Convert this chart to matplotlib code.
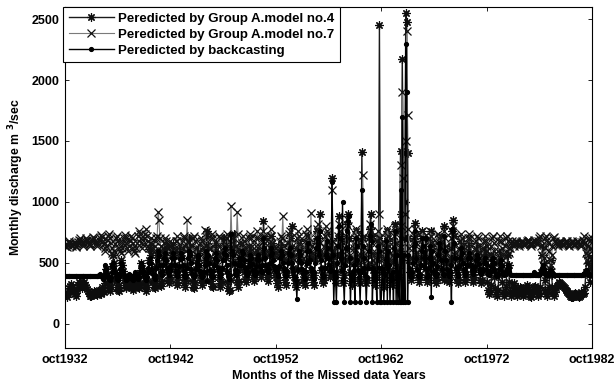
import numpy as np
import matplotlib
matplotlib.use("Agg")
import matplotlib.pyplot as plt

plt.rcParams['font.family'] = ['Liberation Sans', 'DejaVu Sans']
plt.rcParams['font.weight'] = 'bold'

# monthly discharge (m3/sec) from oct1932, one list per decade (120 months each)
model4_d1 = [250, 235, 220, 240, 270, 290, 310, 325, 300, 280,
             260, 245, 230, 250, 285, 320, 340, 330, 310, 295,
             310, 330, 345, 320, 300, 285, 270, 255, 240, 230,
             225, 235, 250, 270, 260, 245, 235, 240, 260, 280,
             250, 240, 300, 280, 260, 330, 380, 450, 400, 330,
             290, 270, 300, 360, 470, 560, 500, 420, 350, 300,
             280, 270, 320, 400, 520, 480, 430, 360, 320, 300,
             290, 330, 380, 350, 320, 300, 290, 280, 300, 340,
             380, 350, 320, 300, 290, 330, 440, 500, 460, 390,
             330, 300, 270, 300, 350, 420, 520, 610, 560, 430,
             340, 300, 290, 330, 470, 560, 480, 380, 320, 310,
             350, 420, 540, 620, 560, 500, 420, 360, 330, 350]
model4_d2 = [380, 450, 560, 650, 600, 480, 400, 340, 320, 380,
             460, 560, 620, 540, 450, 380, 330, 300, 360, 480,
             620, 700, 640, 520, 420, 350, 300, 290, 340, 450,
             560, 620, 580, 480, 400, 360, 320, 350, 420, 520,
             640, 720, 760, 640, 520, 420, 350, 310, 300, 380,
             480, 600, 660, 560, 450, 380, 330, 300, 350, 460,
             580, 700, 660, 540, 430, 340, 290, 270, 280, 360,
             500, 680, 740, 620, 500, 400, 340, 300, 350, 450,
             560, 650, 600, 500, 420, 370, 340, 380, 460, 560,
             620, 580, 500, 430, 380, 350, 380, 440, 520, 600,
             560, 480, 420, 380, 420, 560, 840, 700, 560, 450,
             380, 350, 400, 480, 600, 720, 660, 540, 450, 400]
model4_d3 = [380, 330, 300, 360, 460, 580, 650, 600, 520, 440,
             380, 340, 320, 400, 520, 640, 700, 620, 800, 560,
             460, 380, 330, 300, 340, 450, 580, 680, 620, 520,
             430, 370, 330, 320, 380, 500, 640, 720, 660, 540,
             440, 380, 340, 320, 400, 540, 680, 760, 700, 580,
             900, 560, 440, 370, 330, 360, 460, 600, 740, 660,
             540, 440, 380, 400, 1200, 620, 480, 380, 330, 420,
             560, 700, 880, 720, 560, 430, 360, 330, 400, 520,
             680, 820, 900, 700, 540, 420, 350, 320, 380, 500,
             640, 760, 680, 540, 420, 350, 330, 420, 1410, 700,
             560, 440, 370, 330, 360, 480, 640, 780, 900, 720,
             560, 440, 360, 320, 380, 520, 700, 640, 2450, 620]
model4_d4 = [560, 420, 340, 300, 360, 480, 640, 760, 700, 560,
             440, 360, 320, 380, 520, 680, 820, 760, 600, 460,
             380, 600, 1420, 900, 2170, 1400, 700, 1000, 2550, 2480,
             1400, 700, 520, 420, 360, 400, 520, 680, 830, 720,
             580, 460, 380, 340, 380, 480, 620, 760, 700, 560,
             450, 380, 340, 360, 440, 560, 680, 760, 640, 520,
             420, 360, 330, 370, 460, 600, 720, 660, 540, 440,
             380, 360, 800, 620, 500, 420, 360, 340, 400, 520,
             640, 760, 850, 720, 560, 440, 370, 330, 360, 460,
             580, 680, 620, 500, 420, 370, 340, 380, 480, 600,
             660, 580, 480, 410, 360, 340, 380, 460, 560, 640,
             600, 500, 420, 360, 330, 360, 440, 540, 620, 560]
model4_d5 = [420, 340, 280, 240, 260, 320, 450, 560, 500, 380,
             290, 240, 230, 280, 400, 540, 600, 480, 340, 260,
             230, 250, 300, 420, 560, 480, 340, 260, 230, 250,
             290, 330, 300, 260, 240, 230, 250, 280, 300, 290,
             260, 240, 230, 240, 270, 300, 320, 300, 270, 250,
             230, 220, 240, 270, 300, 310, 290, 260, 240, 230,
             250, 300, 420, 560, 640, 500, 360, 280, 240, 230,
             260, 300, 450, 520, 400, 300, 250, 230, 260, 290,
             310, 320, 330, 340, 335, 325, 320, 310, 300, 290,
             280, 270, 260, 250, 240, 230, 220, 215, 220, 230,
             240, 250, 245, 235, 225, 220, 230, 245, 260, 250,
             240, 250, 300, 420, 560, 620, 500, 400, 340, 460,
             540]

model7_d1 = [640, 655, 630, 645, 665, 680, 660, 645, 635, 650,
             670, 660, 640, 630, 650, 670, 690, 700, 680, 660,
             650, 640, 660, 680, 700, 690, 670, 650, 640, 655,
             675, 690, 710, 700, 680, 660, 650, 640, 660, 690,
             700, 730, 710, 680, 650, 620, 600, 640, 690, 720,
             740, 700, 660, 620, 580, 560, 600, 650, 700, 720,
             690, 660, 620, 600, 580, 620, 660, 700, 730, 700,
             660, 620, 600, 640, 680, 720, 700, 660, 620, 600,
             580, 620, 660, 720, 760, 740, 700, 660, 620, 650,
             700, 740, 780, 720, 680, 640, 620, 660, 700, 650,
             620, 600, 640, 680, 700, 720, 920, 850, 700, 640,
             600, 580, 620, 660, 700, 680, 640, 610, 640, 680]
model7_d2 = [640, 600, 560, 520, 560, 620, 680, 720, 680, 620,
             560, 520, 560, 620, 680, 720, 700, 640, 600, 852,
             680, 620, 560, 520, 580, 640, 700, 720, 680, 620,
             560, 500, 540, 600, 660, 700, 680, 620, 580, 770,
             640, 580, 520, 480, 540, 620, 700, 740, 700, 640,
             580, 520, 500, 560, 640, 720, 700, 640, 580, 540,
             520, 580, 640, 700, 740, 700, 640, 580, 620, 970,
             700, 620, 560, 520, 580, 640, 920, 740, 660, 600,
             560, 600, 660, 720, 680, 620, 560, 520, 580, 640,
             700, 740, 700, 640, 580, 540, 580, 640, 700, 760,
             700, 640, 580, 540, 600, 680, 760, 720, 660, 600,
             560, 600, 660, 720, 780, 720, 660, 600, 560, 620]
model7_d3 = [620, 580, 540, 560, 620, 680, 720, 700, 880, 640,
             580, 540, 520, 580, 660, 740, 760, 700, 640, 580,
             540, 520, 560, 620, 700, 760, 720, 660, 600, 560,
             520, 540, 600, 680, 740, 780, 720, 660, 600, 560,
             905, 640, 580, 540, 560, 620, 700, 780, 820, 740,
             660, 600, 540, 520, 560, 640, 720, 800, 760, 680,
             620, 560, 520, 560, 1100, 680, 600, 540, 500, 560,
             640, 720, 820, 760, 680, 600, 540, 500, 540, 620,
             720, 860, 800, 700, 620, 560, 500, 480, 540, 620,
             700, 780, 720, 640, 560, 500, 480, 560, 700, 1220,
             720, 620, 540, 480, 520, 600, 700, 820, 760, 660,
             580, 520, 480, 500, 580, 680, 760, 700, 900, 700]
model7_d4 = [660, 600, 540, 500, 540, 620, 700, 780, 720, 640,
             580, 520, 500, 560, 640, 720, 800, 740, 660, 600,
             560, 620, 1300, 800, 1900, 1200, 700, 900, 1500, 2400,
             1710, 780, 620, 540, 500, 540, 620, 700, 780, 720,
             640, 580, 520, 500, 540, 620, 700, 760, 700, 640,
             580, 520, 500, 540, 620, 700, 760, 720, 660, 600,
             540, 500, 520, 580, 660, 740, 700, 640, 580, 540,
             500, 540, 760, 700, 640, 580, 520, 500, 540, 620,
             700, 760, 800, 720, 640, 580, 520, 500, 540, 620,
             680, 740, 700, 640, 580, 540, 520, 560, 640, 700,
             740, 700, 640, 580, 540, 520, 560, 620, 680, 720,
             700, 640, 580, 540, 520, 560, 620, 680, 720, 680]
model7_d5 = [640, 600, 560, 520, 560, 640, 700, 720, 660, 600,
             540, 500, 520, 600, 680, 720, 680, 620, 560, 520,
             560, 640, 700, 720, 680, 620, 580, 620, 660, 680,
             660, 640, 650, 670, 680, 665, 650, 640, 655, 670,
             680, 670, 655, 645, 650, 665, 680, 690, 675, 660,
             650, 640, 655, 670, 685, 680, 665, 650, 660, 680,
             700, 720, 640, 560, 480, 540, 620, 700, 720, 690,
             660, 600, 520, 480, 560, 640, 700, 710, 680, 660,
             650, 640, 655, 670, 680, 670, 655, 645, 650, 665,
             680, 675, 660, 645, 640, 650, 665, 680, 670, 655,
             645, 650, 665, 675, 670, 655, 645, 640, 655, 670,
             690, 720, 660, 580, 520, 560, 640, 700, 680, 620,
             700]

backcast_d1 = [390, 390, 389, 390, 391, 390, 390, 389, 390, 391,
               390, 390, 389, 390, 391, 390, 390, 389, 390, 391,
               390, 390, 389, 390, 391, 390, 390, 389, 390, 391,
               390, 390, 389, 390, 391, 390, 390, 392, 395, 400,
               410, 390, 380, 370, 400, 440, 480, 450, 410, 380,
               370, 360, 380, 420, 470, 500, 460, 420, 390, 370,
               360, 380, 410, 450, 500, 470, 430, 400, 380, 370,
               360, 370, 390, 410, 400, 380, 370, 360, 380, 400,
               420, 400, 380, 370, 380, 420, 470, 500, 470, 430,
               400, 380, 360, 380, 420, 460, 500, 540, 500, 450,
               410, 380, 370, 400, 460, 520, 600, 560, 480, 420,
               400, 430, 480, 540, 580, 520, 460, 420, 400, 430]
backcast_d2 = [440, 480, 540, 580, 540, 480, 430, 400, 390, 420,
               470, 530, 580, 540, 480, 430, 400, 380, 400, 460,
               540, 600, 560, 500, 450, 410, 390, 380, 400, 450,
               500, 560, 540, 480, 430, 400, 380, 390, 420, 480,
               540, 600, 350, 560, 500, 440, 400, 380, 390, 430,
               480, 540, 580, 520, 460, 420, 390, 380, 410, 460,
               520, 580, 620, 560, 480, 420, 390, 370, 400, 740,
               600, 560, 500, 440, 410, 400, 430, 480, 540, 520,
               480, 540, 600, 580, 520, 460, 420, 400, 420, 470,
               520, 560, 540, 490, 440, 410, 400, 420, 470, 530,
               560, 520, 470, 430, 420, 480, 700, 620, 540, 480,
               440, 420, 450, 500, 560, 620, 580, 520, 470, 440]
backcast_d3 = [460, 420, 390, 410, 470, 540, 600, 560, 500, 460,
               420, 400, 390, 430, 500, 580, 620, 560, 500, 460,
               420, 390, 370, 360, 205, 440, 520, 600, 560, 500,
               450, 410, 380, 370, 420, 500, 600, 660, 600, 520,
               460, 420, 390, 369, 420, 500, 620, 700, 640, 560,
               760, 520, 460, 410, 380, 400, 460, 560, 680, 620,
               540, 480, 430, 440, 1160, 560, 180, 420, 380, 180,
               500, 640, 800, 700, 540, 440, 1000, 360, 180, 480,
               620, 760, 840, 880, 540, 180, 400, 360, 420, 480,
               180, 700, 640, 520, 440, 380, 180, 420, 1100, 640,
               540, 460, 400, 180, 380, 460, 600, 720, 820, 680,
               180, 460, 400, 360, 420, 180, 640, 600, 460, 180]
backcast_d4 = [180, 460, 420, 180, 400, 520, 680, 180, 600, 480,
               180, 400, 360, 420, 180, 620, 760, 180, 560, 180,
               420, 180, 1100, 180, 1700, 180, 560, 180, 2300, 1900,
               180, 560, 460, 400, 380, 420, 500, 640, 760, 660,
               540, 440, 400, 380, 410, 480, 600, 700, 640, 540,
               460, 700, 380, 400, 460, 540, 640, 220, 600, 500,
               430, 400, 390, 410, 470, 560, 660, 620, 520, 450,
               410, 400, 720, 600, 520, 450, 410, 390, 420, 480,
               180, 780, 760, 660, 540, 460, 410, 390, 410, 470,
               540, 620, 580, 500, 450, 420, 400, 420, 480, 540,
               580, 540, 480, 440, 420, 410, 430, 470, 520, 560,
               540, 490, 450, 420, 410, 420, 450, 500, 540, 500]
backcast_d5 = [480, 440, 410, 400, 420, 470, 520, 540, 500, 450,
               420, 400, 390, 410, 450, 500, 520, 470, 430, 410,
               400, 405, 420, 450, 480, 460, 430, 410, 400, 400,
               400, 402, 400, 398, 400, 400, 402, 400, 398, 400,
               400, 402, 400, 398, 400, 400, 402, 400, 398, 400,
               400, 402, 400, 398, 420, 400, 402, 400, 398, 400,
               400, 410, 430, 460, 480, 450, 420, 405, 400, 400,
               402, 410, 430, 440, 420, 405, 400, 400, 398, 400,
               400, 402, 400, 398, 400, 400, 402, 400, 398, 400,
               400, 402, 400, 398, 400, 400, 402, 400, 398, 400,
               400, 402, 400, 398, 400, 400, 402, 400, 398, 400,
               400, 405, 420, 440, 430, 415, 405, 400, 400, 400,
               400]

tick_months = [0, 120, 240, 360, 480, 600]
tick_labels = ['oct1932', 'oct1942', 'oct1952', 'oct1962', 'oct1972', 'oct1982']

model4 = np.array(model4_d1 + model4_d2 + model4_d3 + model4_d4 + model4_d5)
model7 = np.array(model7_d1 + model7_d2 + model7_d3 + model7_d4 + model7_d5)
backcast = np.array(backcast_d1 + backcast_d2 + backcast_d3 + backcast_d4 + backcast_d5)
months = np.arange(len(model4))

fig = plt.figure(figsize=(6.16, 3.83), dpi=100)
ax = fig.add_axes([0.1055, 0.0914, 0.8555, 0.8903])

ax.plot(months, model4, '-', color='#1a1a1a', lw=1.0, marker=(8, 2, 0),
        ms=6, mec='#0d0d0d', mew=0.85, label='Peredicted by Group A.model no.4')
ax.plot(months, model7, '-', color='#7a7a7a', lw=0.8, marker='x',
        ms=5.5, mec='#111111', mew=0.9, label='Peredicted by Group A.model no.7')
ax.plot(months, backcast, '-', color='black', lw=1.0, marker='.',
        ms=5.5, mec='black', mfc='black', label='Peredicted by backcasting')

ax.set_xlim(0, 600)
ax.set_ylim(-200, 2600)
ax.set_xticks(tick_months)
ax.set_xticklabels(tick_labels)
ax.set_yticks([0, 500, 1000, 1500, 2000, 2500])
ax.tick_params(direction='in', top=True, right=True, length=3, width=0.6,
               labelsize=9, pad=4)
for s in ax.spines.values():
    s.set_linewidth(0.8)

ax.set_xlabel('Months of the Missed data Years', fontsize=9, fontweight='bold', labelpad=3)
ax.set_ylabel(r'Monthly discharge m $^{\mathbf{3}}$/sec', fontsize=8.8,
              fontweight='bold', labelpad=4)

leg = ax.legend(loc='upper left', bbox_to_anchor=(-0.003, 1.0), borderaxespad=0,
                fancybox=False, framealpha=1, edgecolor='black',
                prop={'size': 9.5, 'weight': 'bold'}, handlelength=3.4,
                handletextpad=0.35, labelspacing=0.3, borderpad=0.4)
leg.get_frame().set_linewidth(0.8)

fig.savefig('out.png', dpi=100)
